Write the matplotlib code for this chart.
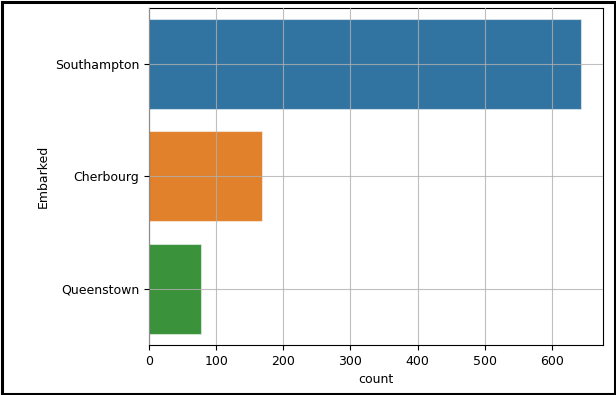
import matplotlib
matplotlib.use("Agg")
import matplotlib.pyplot as plt
from matplotlib.patches import Rectangle

categories = ["Southampton", "Cherbourg", "Queenstown"]
counts = [644, 168, 77]
colors = ["#3274a1", "#e1812c", "#3a923a"]

plt.rcParams["font.size"] = 9

fig = plt.figure(figsize=(6.16, 3.95), dpi=100)
ax = fig.add_axes([149/616, 1 - 345/395, (603-149)/616, (345-7.5)/395])

y = list(range(len(categories)))
ax.barh(y, counts, height=0.8, color=colors, edgecolor=(1, 1, 1, 0.5), linewidth=0.8, zorder=1)
ax.set_yticks(y)
ax.set_yticklabels(categories)
ax.set_ylim(2.5, -0.5)
ax.set_xlim(0, max(counts) * 1.05)
ax.set_xticks([0, 100, 200, 300, 400, 500, 600])
ax.grid(True, color="#b0b0b0", linewidth=0.8, alpha=0.8, zorder=1.5)
ax.set_axisbelow(False)
ax.set_xlabel("count")
ax.set_ylabel("Embarked")

fig.patches.append(Rectangle((1.5/616, 1.5/395), 1 - 3/616, 1 - 3/395, transform=fig.transFigure,
                             fill=False, edgecolor="black", linewidth=2.2))

fig.savefig("out.png", dpi=100)
